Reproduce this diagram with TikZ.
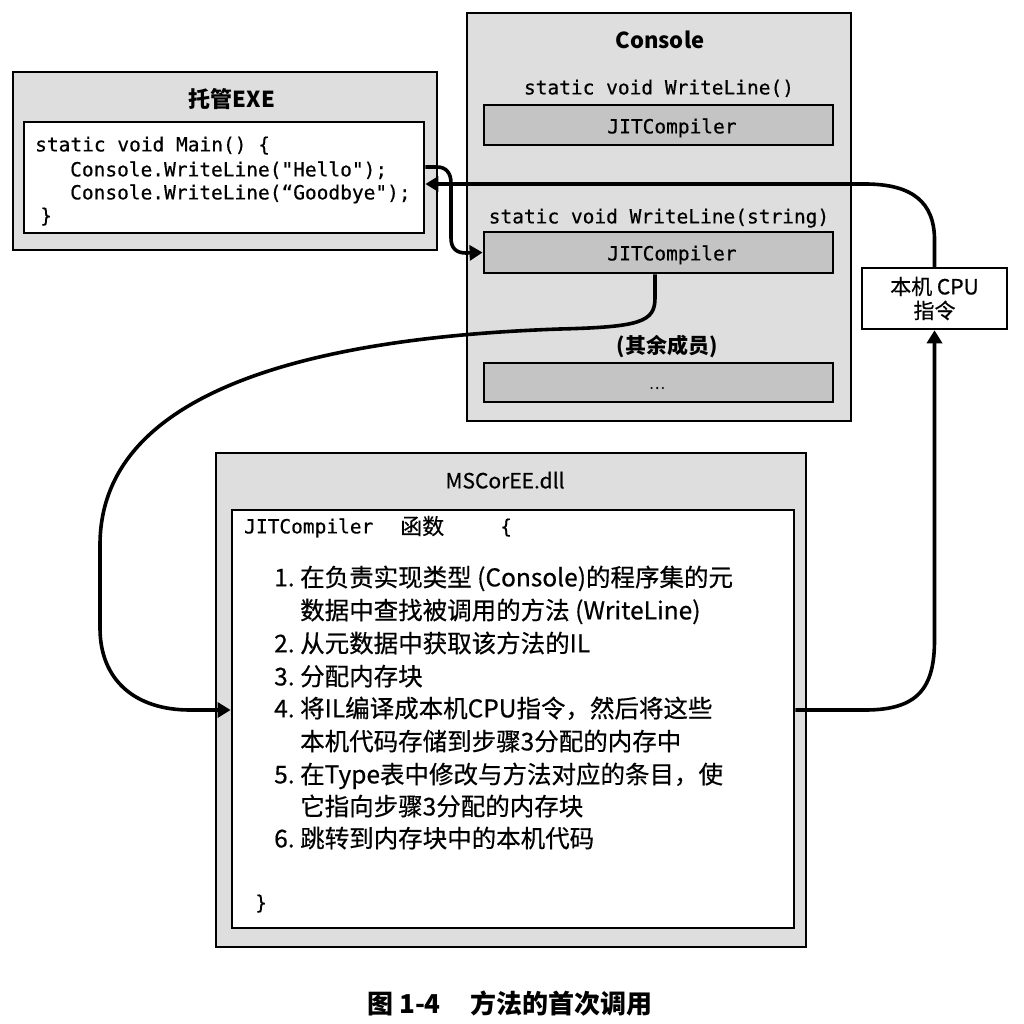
\documentclass[tikz,border=0pt]{standalone}
\usepackage{fontspec}
\setmainfont{Noto Sans CJK SC}
\setmonofont{DejaVu Sans Mono}
\newfontfamily\codefont{DejaVu Sans Mono}[FakeBold=0.5]
\newfontfamily\listfont{Noto Sans CJK SC}[FakeBold=0.5]
\usetikzlibrary{arrows.meta}
\definecolor{lightg}{RGB}{222,222,222}
\definecolor{midg}{RGB}{196,196,196}
\begin{document}
\begin{tikzpicture}[x=1pt,y=-1pt,
  outerbox/.style={draw=black,line width=2.5pt,fill=lightg,inner sep=0pt},
  innerbox/.style={draw=black,line width=2.8pt,fill=white,inner sep=0pt},
  jitbox/.style={draw=black,line width=2.8pt,fill=midg,inner sep=0pt},
  codetxt/.style={font=\codefont\fontsize{19.5}{20}\selectfont,inner sep=0pt,text height=1.5ex,text depth=0.25ex,yshift=-3pt},
  cjktxt/.style={font=\listfont\fontsize{24.5}{26}\selectfont,inner sep=0pt,text height=1.5ex,text depth=0.25ex,anchor=west,yshift=-3pt},
  titletxt/.style={font=\bfseries\fontsize{21}{22}\selectfont,inner sep=0pt,text height=1.5ex,text depth=0.25ex,yshift=-3pt},
  conn/.style={line width=3.6pt,line cap=butt},
  tip/.style={-{Triangle[length=13pt,width=15pt]}}
]
\useasboundingbox (0,0) rectangle (1024,1024);
\fill[white] (0,0) rectangle (1024,1024);

% Managed EXE
\node[outerbox,minimum width=424pt,minimum height=178pt] (exe) at (225,161) {};
\node[titletxt,font=\bfseries\fontsize{22}{22}\selectfont] (exet) at (232,101) {托管EXE};
\node[innerbox,minimum width=400pt,minimum height=111pt] (exein) at (224,177.5) {};
\node[codetxt,anchor=west] (l1) at (35,145) {static void Main() \{};
\node[codetxt,anchor=west] (l2) at (70,170) {Console.WriteLine("Hello");};
\node[codetxt,anchor=west] (l3) at (70,193) {Console.WriteLine(“Goodbye");};
\node[codetxt,anchor=west] (l4) at (40,216) {\}};

% Console
\node[outerbox,minimum width=384pt,minimum height=408pt] (con) at (659,217) {};
\node[titletxt,font=\bfseries\fontsize{22}{22}\selectfont] (cont) at (660,42) {Console};
\node[codetxt] (wl0) at (659,88) {static void WriteLine()};
\node[jitbox,minimum width=349pt,minimum height=40pt] (jit1) at (658.5,125) {};
\node[codetxt] (jt1) at (672,127) {JITCompiler};
\node[codetxt] (wl1) at (659,217) {static void WriteLine(string)};
\node[jitbox,minimum width=349pt,minimum height=41pt] (jit2) at (658.5,252.5) {};
\node[codetxt] (jt2) at (672,254) {JITCompiler};
\node[titletxt] (rest) at (667,347) {(其余成员)};
\node[jitbox,minimum width=349pt,minimum height=39pt] (jit3) at (658.5,382.5) {};
\node[font=\listfont\fontsize{15}{15}\selectfont,inner sep=0pt] (dots) at (657,388) {…};

% Native CPU
\node[draw=black,line width=2.5pt,fill=white,minimum width=145pt,minimum height=61pt,align=center,inner sep=0pt,font=\listfont\fontsize{21}{25}\selectfont] (native) at (934.5,298.5) {本机 CPU\\[-1pt]指令};

% MSCorEE
\node[outerbox,minimum width=590pt,minimum height=494pt] (ms) at (511,700) {};
\node[inner sep=0pt,font=\listfont\fontsize{21}{22}\selectfont,text height=1.5ex,text depth=0.25ex,yshift=-3pt] (mst) at (505,482) {MSCorEE.dll};
\node[innerbox,minimum width=562pt,minimum height=418pt] (msin) at (513,719) {};
\node[codetxt,anchor=west] (jh) at (244,527) {JITCompiler};
\node[cjktxt,font=\listfont\fontsize{22}{22}\selectfont] (hs) at (400,528) {函数};
\node[codetxt,anchor=west] (br) at (500,527) {\{};
\node[cjktxt] (n1) at (274,580) {1.};
\node[cjktxt] (t1) at (300,580) {在负责实现类型 (Console)的程序集的元};
\node[cjktxt] (t1b) at (300,613) {数据中查找被调用的方法 (WriteLine)};
\node[cjktxt] (n2) at (274,646) {2.};
\node[cjktxt] (t2) at (300,646) {从元数据中获取该方法的IL};
\node[cjktxt] (n3) at (274,679) {3.};
\node[cjktxt] (t3) at (300,679) {分配内存块};
\node[cjktxt] (n4) at (274,711) {4.};
\node[cjktxt] (t4) at (300,711) {将IL编译成本机CPU指令，然后将这些};
\node[cjktxt] (t4b) at (300,744) {本机代码存储到步骤3分配的内存中};
\node[cjktxt] (n5) at (274,777) {5.};
\node[cjktxt] (t5) at (300,777) {在Type表中修改与方法对应的条目，使};
\node[cjktxt] (t5b) at (300,809) {它指向步骤3分配的内存块};
\node[cjktxt] (n6) at (274,841) {6.};
\node[cjktxt] (t6) at (300,841) {跳转到内存块中的本机代码};
\node[codetxt,anchor=west] (cb) at (255,903) {\}};

% caption
\node[inner sep=0pt,font=\bfseries\fontsize{26}{26}\selectfont] (cap) at (510,1004) {图 1-4\hspace{30pt}方法的首次调用};

% connectors
\draw[conn,tip] (native.north) -- (934.5,240) .. controls (934.5,202) and (912,184) .. (865,184) -- (exein.east |- 0,184);
\draw[conn,tip] (exein.east |- 0,167) -- (437,167) .. controls (446,167) and (451,173) .. (451,183) -- (451,238) .. controls (451,248) and (456,253) .. (466,253) -- (jit2.west);
\draw[conn,tip] (jit2.south -| 655,0) -- (655,298) .. controls (655,322) and (640,327) .. (560,329) .. controls (300,338) and (100,395) .. (100,545) -- (100,628) .. controls (100,680) and (135,710) .. (190,710) -- (msin.west |- 0,710);
\draw[conn,tip] (msin.east |- 0,710) -- (865,710) .. controls (918,710) and (934.5,688) .. (934.5,640) -- (native.south);
\end{tikzpicture}
\end{document}
